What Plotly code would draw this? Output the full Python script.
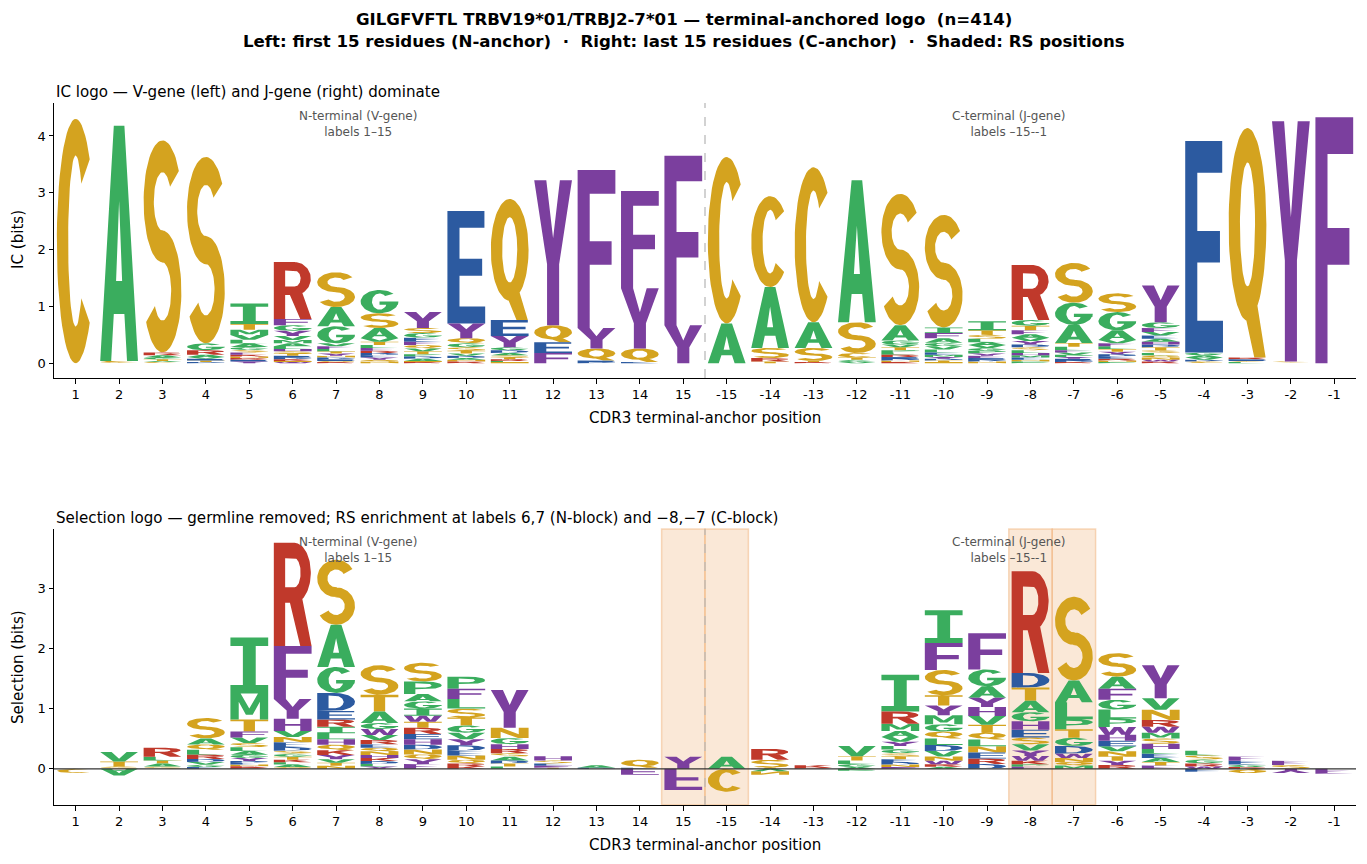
import numpy as np
import plotly.graph_objects as go

# ---------------- data ----------------
POSITION_LABELS = [str(i) for i in range(1, 16)] + [str(-i) for i in range(15, 0, -1)]

# IC logo (bits), N-anchored block, labels 1..15
IC_N_BLOCK = [
    {'C': 4.30},
    {'A': 4.14, 'S': 0.02, 'C': 0.02},
    {'S': 3.73, 'R': 0.05, 'A': 0.04, 'T': 0.03, 'G': 0.03, 'C': 0.02, 'V': 0.02},
    {'S': 3.28, 'G': 0.12, 'R': 0.08, 'A': 0.04, 'T': 0.03, 'E': 0.03, 'V': 0.03, 'D': 0.02},
    {'I': 0.36, 'T': 0.10, 'M': 0.095, 'V': 0.08, 'L': 0.07, 'A': 0.06, 'G': 0.05, 'S': 0.045,
     'F': 0.04, 'Y': 0.03, 'E': 0.03, 'R': 0.03, 'N': 0.03, 'K': 0.03},
    {'R': 1.00, 'F': 0.11, 'G': 0.10, 'Y': 0.09, 'V': 0.07, 'M': 0.06, 'L': 0.05, 'A': 0.05,
     'T': 0.04, 'S': 0.04, 'H': 0.04, 'K': 0.03, 'D': 0.03, 'E': 0.03, 'W': 0.02, 'N': 0.02},
    {'S': 0.61, 'A': 0.34, 'G': 0.30, 'F': 0.05, 'V': 0.05, 'Y': 0.04, 'T': 0.04, 'L': 0.04,
     'E': 0.03, 'D': 0.03, 'N': 0.03, 'R': 0.02, 'Q': 0.02},
    {'G': 0.41, 'S': 0.26, 'A': 0.18, 'T': 0.06, 'V': 0.06, 'F': 0.05, 'L': 0.05, 'Y': 0.04,
     'E': 0.04, 'D': 0.04, 'R': 0.04, 'N': 0.03, 'Q': 0.03},
    {'Y': 0.28, 'S': 0.09, 'G': 0.08, 'E': 0.07, 'Q': 0.06, 'F': 0.06, 'T': 0.05, 'V': 0.05,
     'A': 0.04, 'D': 0.04, 'P': 0.04, 'R': 0.02, 'N': 0.02},
    {'E': 1.98, 'Y': 0.26, 'Q': 0.09, 'G': 0.07, 'S': 0.06, 'T': 0.05, 'D': 0.04, 'V': 0.04,
     'R': 0.03, 'N': 0.03, 'A': 0.03},
    {'Q': 2.13, 'E': 0.28, 'Y': 0.20, 'D': 0.05, 'G': 0.05, 'S': 0.04, 'A': 0.04, 'R': 0.03,
     'T': 0.03, 'N': 0.02, 'L': 0.02},
    {'Y': 2.55, 'Q': 0.30, 'E': 0.19, 'F': 0.18},
    {'F': 2.78, 'Y': 0.36, 'Q': 0.21, 'E': 0.03, 'D': 0.02},
    {'F': 1.71, 'Y': 1.06, 'Q': 0.24, 'E': 0.02},
    {'F': 2.98, 'Y': 0.67},
]

# IC logo (bits), C-anchored block, labels -15..-1
IC_C_BLOCK = [
    {'C': 2.93, 'A': 0.70},
    {'C': 1.60, 'A': 1.07, 'S': 0.18, 'R': 0.06, 'T': 0.03},
    {'C': 2.73, 'A': 0.45, 'S': 0.23, 'R': 0.02, 'T': 0.02},
    {'A': 2.50, 'S': 0.54, 'C': 0.08, 'G': 0.04, 'T': 0.04, 'V': 0.02},
    {'S': 2.31, 'A': 0.27, 'G': 0.07, 'T': 0.05, 'V': 0.05, 'R': 0.04, 'L': 0.04, 'P': 0.04,
     'N': 0.03, 'D': 0.03, 'E': 0.03, 'K': 0.02},
    {'S': 1.98, 'I': 0.10, 'F': 0.09, 'A': 0.08, 'V': 0.06, 'G': 0.06, 'L': 0.05, 'M': 0.04,
     'E': 0.04, 'T': 0.03, 'D': 0.03, 'Y': 0.03, 'N': 0.02},
    {'I': 0.16, 'T': 0.08, 'S': 0.07, 'L': 0.06, 'P': 0.05, 'G': 0.05, 'V': 0.05, 'A': 0.05,
     'F': 0.04, 'Y': 0.04, 'N': 0.03, 'D': 0.03, 'E': 0.03},
    {'R': 0.97, 'G': 0.10, 'T': 0.08, 'F': 0.07, 'Y': 0.06, 'V': 0.06, 'A': 0.06, 'L': 0.05,
     'S': 0.05, 'D': 0.05, 'E': 0.04, 'M': 0.04, 'H': 0.04, 'P': 0.03, 'N': 0.03},
    {'S': 0.70, 'G': 0.39, 'A': 0.32, 'T': 0.065, 'L': 0.06, 'P': 0.04, 'V': 0.04, 'F': 0.04,
     'D': 0.03, 'E': 0.03, 'Y': 0.03, 'R': 0.02},
    {'S': 0.33, 'G': 0.32, 'A': 0.17, 'V': 0.06, 'T': 0.05, 'L': 0.05, 'F': 0.05, 'E': 0.04,
     'D': 0.04, 'Y': 0.04, 'N': 0.03, 'R': 0.03, 'P': 0.02},
    {'Y': 0.65, 'G': 0.10, 'F': 0.07, 'E': 0.06, 'V': 0.06, 'S': 0.05, 'T': 0.05, 'D': 0.05,
     'H': 0.05, 'A': 0.05, 'N': 0.04, 'Q': 0.04, 'L': 0.04, 'R': 0.03, 'W': 0.03},
    {'E': 3.72, 'G': 0.05, 'V': 0.04, 'A': 0.04, 'S': 0.03, 'D': 0.03},
    {'Q': 4.04, 'E': 0.03, 'R': 0.03, 'L': 0.02, 'S': 0.02},
    {'Y': 4.23, 'S': 0.02, 'T': 0.01},
    {'F': 4.33},
]

# Selection logo (bits), N-anchored block
SEL_N_BLOCK = [
    {'C': -0.07},
    {'V': 0.16, 'T': 0.08, 'S': 0.04, 'A': -0.11},
    {'R': 0.15, 'L': 0.06, 'A': 0.05, 'T': 0.05, 'S': 0.04},
    {'S': 0.34, 'A': 0.10, 'Q': 0.09, 'L': 0.08, 'R': 0.07, 'D': 0.05, 'V': 0.045, 'G': 0.04, 'E': 0.03},
    {'I': 0.93, 'M': 0.43, 'T': 0.20, 'F': 0.10, 'V': 0.09, 'S': 0.07, 'L': 0.065, 'A': 0.06,
     'G': 0.055, 'Y': 0.05, 'E': 0.03, 'D': 0.03, 'K': 0.025, 'N': 0.025, 'R': 0.02},
    {'R': 1.71, 'F': 0.88, 'Y': 0.33, 'H': 0.20, 'V': 0.10, 'N': 0.09, 'E': 0.08, 'D': 0.06,
     'T': 0.05, 'G': 0.05, 'S': 0.05, 'A': 0.04, 'L': 0.04, 'K': 0.04, 'Q': 0.03},
    {'S': 1.08, 'A': 0.70, 'G': 0.43, 'D': 0.30, 'E': 0.14, 'R': 0.12, 'I': 0.11, 'L': 0.10,
     'Q': 0.09, 'H': 0.09, 'K': 0.08, 'Y': 0.07, 'V': 0.06, 'N': 0.05, 'T': 0.05},
    {'S': 0.49, 'T': 0.28, 'A': 0.19, 'W': 0.10, 'G': 0.10, 'V': 0.08, 'R': 0.07, 'N': 0.06,
     'Q': 0.06, 'E': 0.06, 'D': 0.05, 'K': 0.05, 'H': 0.05, 'Y': 0.04, 'L': 0.04},
    {'S': 0.31, 'P': 0.21, 'I': 0.12, 'G': 0.12, 'A': 0.12, 'R': 0.10, 'T': 0.10, 'W': 0.10,
     'H': 0.09, 'E': 0.09, 'F': 0.08, 'Y': 0.08, 'Q': 0.08, 'N': 0.08, 'D': 0.08},
    {'P': 0.20, 'F': 0.17, 'L': 0.16, 'S': 0.15, 'T': 0.13, 'G': 0.12, 'V': 0.11, 'Y': 0.10,
     'D': 0.09, 'E': 0.08, 'N': 0.07, 'Q': 0.06, 'R': 0.05, 'K': 0.04},
    {'Y': 0.63, 'N': 0.17, 'G': 0.10, 'H': 0.08, 'R': 0.07, 'A': 0.06, 'S': 0.06, 'T': 0.05,
     'D': 0.05, 'L': 0.04},
    {'H': 0.07, 'S': 0.05, 'E': 0.04, 'F': 0.03, 'T': 0.02},
    {'A': 0.04, 'D': 0.02},
    {'Q': 0.13, 'E': 0.02, 'F': -0.10},
    {'Y': 0.20, 'F': -0.35},
]

# Selection logo (bits), C-anchored block
SEL_C_BLOCK = [
    {'A': 0.20, 'C': -0.38},
    {'R': 0.18, 'S': 0.13, 'T': 0.02, 'N': -0.06, 'V': -0.04},
    {'K': 0.04, 'R': 0.02},
    {'V': 0.17, 'T': 0.07, 'L': 0.06, 'G': 0.05, 'A': 0.03, 'P': -0.03},
    {'I': 0.61, 'R': 0.20, 'M': 0.12, 'A': 0.10, 'V': 0.08, 'Y': 0.07, 'G': 0.06, 'L': 0.06,
     'E': 0.05, 'T': 0.05, 'S': 0.05, 'N': 0.04, 'D': 0.04, 'F': 0.03},
    {'I': 0.54, 'F': 0.45, 'S': 0.42, 'T': 0.17, 'Y': 0.16, 'M': 0.15, 'G': 0.12, 'Q': 0.115,
     'L': 0.11, 'D': 0.10, 'V': 0.09, 'N': 0.07, 'W': 0.06, 'R': 0.04, 'A': 0.035},
    {'F': 0.60, 'G': 0.28, 'A': 0.19, 'Y': 0.155, 'H': 0.15, 'V': 0.145, 'T': 0.13, 'Q': 0.115,
     'L': 0.11, 'N': 0.105, 'E': 0.10, 'R': 0.09, 'D': 0.08},
    {'R': 1.69, 'D': 0.24, 'T': 0.22, 'A': 0.19, 'G': 0.15, 'H': 0.14, 'E': 0.13, 'S': 0.11,
     'V': 0.105, 'Y': 0.09, 'W': 0.08, 'K': 0.06, 'P': 0.04, 'F': 0.035},
    {'S': 1.39, 'A': 0.36, 'L': 0.28, 'P': 0.17, 'T': 0.14, 'G': 0.135, 'D': 0.13, 'W': 0.07,
     'N': 0.065, 'Q': 0.06, 'M': 0.055},
    {'S': 0.39, 'A': 0.20, 'F': 0.185, 'G': 0.16, 'L': 0.15, 'P': 0.14, 'W': 0.13, 'H': 0.10,
     'E': 0.09, 'V': 0.085, 'N': 0.08, 'T': 0.075, 'Y': 0.07, 'R': 0.065},
    {'Y': 0.55, 'V': 0.19, 'N': 0.17, 'R': 0.11, 'W': 0.10, 'M': 0.095, 'S': 0.09, 'H': 0.085,
     'L': 0.08, 'E': 0.07, 'A': 0.065, 'T': 0.06, 'F': 0.055},
    {'L': 0.075, 'S': 0.07, 'G': 0.065, 'R': 0.05, 'W': 0.04, 'E': -0.05},
    {'F': 0.07, 'E': 0.065, 'G': 0.04, 'R': 0.03, 'Q': -0.07},
    {'F': 0.07, 'S': 0.065, 'Y': -0.07},
    {'F': -0.08},
]

SHADED_LABELS = ['15', '-15', '-8', '-7']

GOLD, GREEN, PURPLE, BLUE, RED = '#D4A31F', '#3AAD5E', '#7B3F9E', '#2C5AA0', '#C0392B'
LETTER_COLORS = {}
for _l in 'CSTNQ':
    LETTER_COLORS[_l] = GOLD
for _l in 'AGVLIMP':
    LETTER_COLORS[_l] = GREEN
for _l in 'FYWH':
    LETTER_COLORS[_l] = PURPLE
for _l in 'DE':
    LETTER_COLORS[_l] = BLUE
for _l in 'RK':
    LETTER_COLORS[_l] = RED

# ---------------- glyph outlines (unit box) ----------------
SW, SH = 0.30, 0.15


def _arc(cx, cy, rx, ry, a0, a1, n=48):
    t = np.radians(np.linspace(a0, a1, n))
    return np.column_stack([cx + rx * np.cos(t), cy + ry * np.sin(t)])


def _poly(*pts):
    return np.array(pts, float)


def _band(cx, cy, rxo, ryo, rxi, ryi, a0, a1, n=48):
    return np.vstack([_arc(cx, cy, rxo, ryo, a0, a1, n), _arc(cx, cy, rxi, ryi, a1, a0, n)])


def _cat(*parts):
    return np.vstack([np.atleast_2d(np.array(p, float)) for p in parts])


def _area(r):
    x, y = r[:, 0], r[:, 1]
    return 0.5 * np.sum(x * np.roll(y, -1) - np.roll(x, -1) * y)


def build_glyph(L):
    s, h = SW, SH
    solids, holes = [], []
    if L == 'A':
        solids.append(_poly((0, 0), (0.29, 0), (0.36, 0.2), (0.64, 0.2), (0.71, 0), (1, 0), (0.64, 1), (0.36, 1)))
        holes.append(_poly((0.42, 0.34), (0.58, 0.34), (0.5, 0.68)))
    elif L == 'C':
        solids.append(_band(0.5, 0.5, 0.5, 0.5, 0.5 - s, 0.5 - h, 42, 318))
    elif L == 'D':
        solids.append(_cat([(0, 0), (0.45, 0)], _arc(0.45, 0.5, 0.55, 0.5, -90, 90), [(0.45, 1), (0, 1)]))
        holes.append(_cat([(s, h), (0.45, h)], _arc(0.45, 0.5, 0.55 - s, 0.5 - h, -90, 90), [(0.45, 1 - h), (s, 1 - h)]))
    elif L == 'E':
        k = s + 0.02
        solids.append(_poly((0, 0), (1, 0), (1, h), (k, h), (k, 0.5 - h / 2), (0.92, 0.5 - h / 2), (0.92, 0.5 + h / 2),
                            (k, 0.5 + h / 2), (k, 1 - h), (0.98, 1 - h), (0.98, 1), (0, 1)))
    elif L == 'F':
        k = s + 0.02
        solids.append(_poly((0, 0), (k, 0), (k, 0.40), (0.9, 0.40), (0.9, 0.55), (k, 0.55), (k, 1 - h), (1, 1 - h), (1, 1), (0, 1)))
    elif L == 'G':
        solids.append(_band(0.5, 0.5, 0.5, 0.5, 0.5 - s, 0.5 - h, 42, 360))
        solids.append(_poly((0.5, 0.36), (0.99, 0.36), (1.0, 0.5), (0.5, 0.5)))
    elif L == 'H':
        solids.append(_poly((0, 0), (s, 0), (s, 0.43), (1 - s, 0.43), (1 - s, 0), (1, 0), (1, 1), (1 - s, 1), (1 - s, 0.57),
                            (s, 0.57), (s, 1), (0, 1)))
    elif L == 'I':
        solids.append(_poly((0, 0), (1, 0), (1, h), (0.67, h), (0.67, 1 - h), (1, 1 - h), (1, 1), (0, 1), (0, 1 - h),
                            (0.33, 1 - h), (0.33, h), (0, h)))
    elif L == 'K':
        solids.append(_poly((0, 0), (s, 0), (s, 0.32), (0.42, 0.45), (0.70, 0), (1, 0), (0.6, 0.62), (0.97, 1), (0.62, 1),
                            (s, 0.6), (s, 1), (0, 1)))
    elif L == 'L':
        solids.append(_poly((0, 0), (1, 0), (1, h), (s + 0.02, h), (s + 0.02, 1), (0, 1)))
    elif L == 'M':
        solids.append(_poly((0, 0), (0.22, 0), (0.22, 0.68), (0.41, 0.18), (0.59, 0.18), (0.78, 0.68), (0.78, 0), (1, 0),
                            (1, 1), (0.73, 1), (0.5, 0.42), (0.27, 1), (0, 1)))
    elif L == 'N':
        solids.append(_poly((0, 0), (0.26, 0), (0.26, 0.62), (0.72, 0), (1, 0), (1, 1), (0.74, 1), (0.74, 0.38), (0.28, 1), (0, 1)))
    elif L == 'P':
        solids.append(_cat([(0, 0), (s, 0), (s, 0.38), (0.55, 0.38)], _arc(0.55, 0.69, 0.45, 0.31, -90, 90), [(0.55, 1), (0, 1)]))
        holes.append(_cat([(s, 0.38 + h), (0.55, 0.38 + h)], _arc(0.55, 0.69, 0.45 - s * 0.9, 0.31 - h, -90, 90),
                          [(0.55, 1 - h), (s, 1 - h)]))
    elif L == 'Q':
        solids.append(_arc(0.5, 0.58, 0.5, 0.42, 0, 360, 80))
        holes.append(_arc(0.5, 0.58, 0.5 - s, 0.42 - h, 0, 360, 80))
        solids.append(_poly((0.42, 0.2), (0.68, 0), (0.98, 0), (0.72, 0.27)))
    elif L == 'R':
        solids.append(_cat([(0, 0), (s, 0), (s, 0.42), (0.55, 0.42)], _arc(0.55, 0.71, 0.43, 0.29, -90, 90), [(0.55, 1), (0, 1)]))
        holes.append(_cat([(s, 0.42 + h), (0.55, 0.42 + h)], _arc(0.55, 0.71, 0.43 - s * 0.9, 0.29 - h, -90, 90),
                          [(0.55, 1 - h), (s, 1 - h)]))
        solids.append(_poly((0.40, 0.46), (0.70, 0), (1, 0), (0.72, 0.52)))
    elif L == 'S':
        r = (1 + h) / 4
        solids.append(_band(0.5, 1 - r, 0.5, r, 0.5 - s * 0.9, r - h, 30, 275))
        solids.append(_band(0.5, r, 0.5, r, 0.5 - s * 0.9, r - h, 95, -150))
    elif L == 'T':
        solids.append(_poly((0, 1), (0, 1 - h), (0.35, 1 - h), (0.35, 0), (0.65, 0), (0.65, 1 - h), (1, 1 - h), (1, 1)))
    elif L == 'V':
        solids.append(_poly((0, 1), (0.3, 1), (0.5, 0.3), (0.7, 1), (1, 1), (0.65, 0), (0.35, 0)))
    elif L == 'W':
        solids.append(_poly((0, 1), (0.2, 1), (0.29, 0.32), (0.41, 1), (0.59, 1), (0.71, 0.32), (0.8, 1), (1, 1), (0.83, 0),
                            (0.61, 0), (0.5, 0.58), (0.39, 0), (0.17, 0)))
    elif L == 'Y':
        solids.append(_poly((0, 1), (0.32, 1), (0.5, 0.6), (0.68, 1), (1, 1), (0.66, 0.42), (0.66, 0), (0.34, 0), (0.34, 0.42)))
    rings = []
    for r in solids:
        rings.append(r if _area(r) > 0 else r[::-1])
    for r in holes:
        rings.append(r if _area(r) < 0 else r[::-1])
    return rings


GLYPHS = {L: build_glyph(L) for L in LETTER_COLORS}
GLYPH_WIDTH = 0.87


def logo_traces(columns, xaxis, yaxis):
    acc = {}
    for idx, col in enumerate(columns):
        pos = sorted([(l, v) for l, v in col.items() if v > 0], key=lambda t: t[1])
        neg = sorted([(l, v) for l, v in col.items() if v < 0], key=lambda t: -t[1])
        stacks = []
        y = 0.0
        for l, v in pos:
            stacks.append((l, y, v, False))
            y += v
        y = 0.0
        for l, v in neg:
            stacks.append((l, y + v, -v, True))
            y += v
        for l, y0, hgt, flip in stacks:
            xs, ys = acc.setdefault(LETTER_COLORS[l], ([], []))
            for ring in GLYPHS[l]:
                gx, gy = ring[:, 0], ring[:, 1]
                if flip:
                    gy = 1 - gy
                xs.extend((idx - GLYPH_WIDTH / 2 + gx * GLYPH_WIDTH).tolist() + [None])
                ys.extend((y0 + gy * hgt).tolist() + [None])
    traces = []
    for color, (xs, ys) in acc.items():
        traces.append(go.Scatter(x=xs, y=ys, mode='lines', fill='toself', fillcolor=color,
                                 line=dict(width=0, color=color), hoverinfo='skip',
                                 xaxis=xaxis, yaxis=yaxis, showlegend=False))
    return traces


fig = go.Figure()
for t in logo_traces(IC_N_BLOCK + IC_C_BLOCK, 'x', 'y'):
    fig.add_trace(t)
for t in logo_traces(SEL_N_BLOCK + SEL_C_BLOCK, 'x2', 'y2'):
    fig.add_trace(t)

W, H = 1367, 864
XDOM = [54 / W, 1356 / W]
TOP_DOM = [1 - 378 / H, 1 - 103 / H]
BOT_DOM = [1 - 805 / H, 1 - 529 / H]
FONT = 'DejaVu Sans'
n_pos = len(POSITION_LABELS)

axis_common = dict(showline=True, linecolor='black', linewidth=1, ticks='outside', ticklen=4.5,
                   tickwidth=1, tickcolor='black', showgrid=False, zeroline=False,
                   tickfont=dict(family=FONT, size=13, color='black'))

fig.update_layout(
    width=W, height=H, margin=dict(l=0, r=0, t=0, b=0),
    paper_bgcolor='white', plot_bgcolor='white', showlegend=False,
    font=dict(family=FONT, color='black'),
    xaxis=dict(domain=XDOM, range=[-0.5, n_pos - 0.5], tickvals=list(range(n_pos)),
               ticktext=POSITION_LABELS, anchor='y', **axis_common),
    yaxis=dict(domain=TOP_DOM, range=[-0.26, 4.58], tickvals=[0, 1, 2, 3, 4], anchor='x', **axis_common),
    xaxis2=dict(domain=XDOM, range=[-0.5, n_pos - 0.5], tickvals=list(range(n_pos)),
                ticktext=POSITION_LABELS, anchor='y2', **axis_common),
    yaxis2=dict(domain=BOT_DOM, range=[-0.6, 3.98], tickvals=[0, 1, 2, 3], anchor='x2', **axis_common),
)

shapes = []
for lab in SHADED_LABELS:
    i = POSITION_LABELS.index(lab)
    shapes.append(dict(type='rect', xref='x2', yref='y2 domain', x0=i - 0.5, x1=i + 0.5, y0=0, y1=1,
                       fillcolor='rgba(245,203,167,0.45)', line=dict(color='rgba(240,170,110,0.45)', width=1.5),
                       layer='below'))
split = POSITION_LABELS.index('15') + 0.5
for xr, yr in (('x', 'y domain'), ('x2', 'y2 domain')):
    shapes.append(dict(type='line', xref=xr, yref=yr, x0=split, x1=split, y0=0, y1=1,
                       line=dict(color='#BBBBBB', width=1.3, dash='dash'), layer='below'))
shapes.append(dict(type='line', xref='x2 domain', yref='y2', x0=0, x1=1, y0=0, y1=0,
                   line=dict(color='#333333', width=1.3), layer='above'))
fig.update_layout(shapes=shapes)

nb = '\u00a0'
ann = [
    dict(text='<b>GILGFVFTL TRBV19*01/TRBJ2-7*01 — terminal-anchored logo ' + nb + '(n=414)</b>',
         x=0.5, y=1 - 20 / H, font=dict(size=16.6)),
    dict(text='<b>Left: first 15 residues (N-anchor) ' + nb + '·' + nb + nb + 'Right: last 15 residues (C-anchor) '
              + nb + '·' + nb + nb + 'Shaded: RS positions</b>',
         x=0.5, y=1 - 41 / H, font=dict(size=16.6)),
    dict(text='IC logo — V-gene (left) and J-gene (right) dominate', x=54 / W, xanchor='left',
         y=1 - 92 / H, font=dict(size=15.1)),
    dict(text='Selection logo — germline removed; RS enrichment at labels 6,7 (N-block) and −8,−7 (C-block)',
         x=54 / W, xanchor='left', y=1 - 518 / H, font=dict(size=15.1)),
    dict(text='CDR3 terminal-anchor position', x=705 / W, y=1 - 418 / H, font=dict(size=15.1)),
    dict(text='CDR3 terminal-anchor position', x=705 / W, y=1 - 845 / H, font=dict(size=15.1)),
    dict(text='IC (bits)', x=18 / W, y=1 - 240 / H, textangle=-90, font=dict(size=15.1)),
    dict(text='Selection (bits)', x=18 / W, y=1 - 667 / H, textangle=-90, font=dict(size=15.1)),
]
for a in ann:
    a.update(xref='paper', yref='paper', showarrow=False)
    a.setdefault('xanchor', 'center')
    a['yanchor'] = 'middle'
    a['font'] = dict(family=FONT, color='black', size=a['font']['size'])

for yr, xr in (('y domain', 'x'), ('y2 domain', 'x2')):
    ann.append(dict(text='N-terminal (V-gene)<br>labels 1–15', xref=xr, yref=yr, x=6.5, y=0.985,
                    yanchor='top', showarrow=False, font=dict(family=FONT, size=12, color='#555555')))
    ann.append(dict(text='C-terminal (J-gene)<br>labels –15--1', xref=xr, yref=yr, x=21.5, y=0.985,
                    yanchor='top', showarrow=False, font=dict(family=FONT, size=12, color='#555555')))
fig.update_layout(annotations=ann)

fig.write_html('out.html')
